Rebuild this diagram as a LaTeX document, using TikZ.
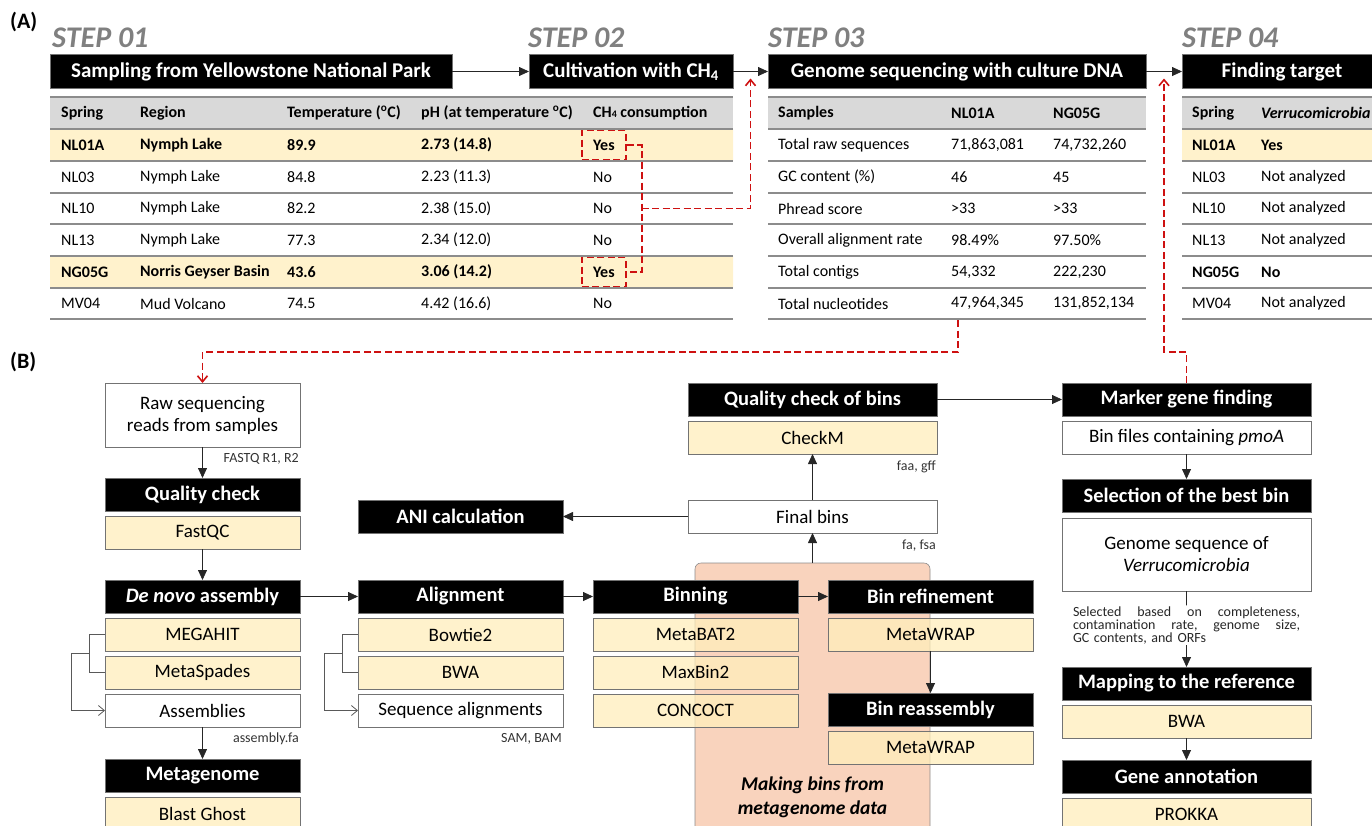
\documentclass[tikz,border=0pt]{standalone}
\usepackage{fontspec}
\setmainfont{Carlito}
\usetikzlibrary{arrows.meta,calc,positioning}

\definecolor{hdgray}{RGB}{217,217,217}
\definecolor{hlrow}{RGB}{255,242,204}
\definecolor{toolfill}{RGB}{255,238,187}
\definecolor{binbg}{RGB}{249,211,189}
\definecolor{stepgray}{RGB}{128,128,128}
\definecolor{redline}{RGB}{206,17,17}
\definecolor{rulegray}{RGB}{140,140,140}

\newcommand{\tabfont}{\fontsize{16}{18}\selectfont}
\newcommand{\boxfont}{\fontsize{19}{22}\selectfont}
\newcommand{\lblfont}{\fontsize{14}{16}\selectfont}

\tikzset{
  box/.style={draw=black!55, line width=0.8pt, minimum height=33pt, inner sep=0pt, outer sep=0pt, align=center, font=\boxfont},
  headbox/.style={box, fill=black, text=white, font=\fontsize{20.5}{22}\selectfont\bfseries},
  toolbox/.style={box, fill=toolfill, fill opacity=0.75, text opacity=1},
  filebox/.style={box, fill=white},
  narrow/.style={minimum width=195pt},
  mid/.style={minimum width=205pt},
  wide/.style={minimum width=249pt},
  arr/.style={line width=0.8pt, black!85, -{Triangle[length=10pt,width=9pt]}},
  brk/.style={line width=0.8pt, black!65},
  opentip/.style={-{Straight Barb[length=6pt,width=10pt]}},
  reddash/.style={redline, line width=1.6pt, dash pattern=on 7pt off 3.5pt},
  redtip/.style={-{Straight Barb[length=6pt,width=10pt]}},
  yesbox/.style={draw=redline, line width=1.6pt, dash pattern=on 7pt off 3.5pt, minimum width=44pt, minimum height=29pt},
  rule/.style={rulegray, line width=1.8pt},
  cell/.style={font=\tabfont, anchor=west, inner sep=0pt},
  lbl/.style={font=\lblfont, text=black!80, inner sep=1pt, anchor=east},
  steplbl/.style={font=\fontsize{30}{32}\selectfont\bfseries\itshape, text=stepgray, anchor=west, inner sep=0pt},
  panel/.style={font=\fontsize{22}{24}\selectfont\bfseries, anchor=west, inner sep=0pt},
}

\begin{document}
\begin{tikzpicture}[x=1pt, y=-1pt]
\clip (0,0) rectangle (1372,825);

% (A) steps and tables
\node[panel] (plA) at (10,22) {(A)};
\node[steplbl] (st1) at (52,38) {STEP 01};
\node[steplbl] (st2) at (528,38) {STEP 02};
\node[steplbl] (st3) at (768,38) {STEP 03};
\node[steplbl] (st4) at (1182,38) {STEP 04};

\node[headbox, minimum width=402pt, minimum height=34pt, font=\fontsize{21}{22}\selectfont\bfseries] (samp) at (251,71.5) {Sampling from Yellowstone National Park};
\node[headbox, minimum width=204pt, minimum height=34pt, font=\fontsize{21}{22}\selectfont\bfseries] (cult) at (631,71.5) {Cultivation with CH\textsubscript{4}};
\node[headbox, minimum width=378pt, minimum height=34pt, font=\fontsize{21}{22}\selectfont\bfseries] (gseq) at (957,71.5) {Genome sequencing with culture DNA};
\node[headbox, minimum width=200pt, minimum height=34pt, font=\fontsize{21}{22}\selectfont\bfseries] (find) at (1282,71.5) {Finding target};

\draw[arr] (samp) -- (cult);
\draw[arr] (cult) -- (gseq);
\draw[arr] (gseq) -- (find);

% table of springs
\fill[hdgray] (50,97) rectangle (733,129);
\fill[hlrow] (50,129) rectangle (733,161) (50,256) rectangle (733,288);
\foreach \y in {97,129,161,193,224,256,288,319} \draw[rule] (50,\y) -- (733,\y);
\foreach \x/\t [count=\i] in {61/Spring, 140/Region, 287/{Temperature (\textsuperscript{o}C)},
    421/{pH (at temperature \textsuperscript{o}C)}, 593/{CH{\fontsize{10}{10}\selectfont 4} consumption}}
  \node[cell, font=\tabfont\bfseries] (ha\i) at (\x,113) {\t};
\foreach \y/\f/\cA/\cB/\cC/\cD/\cE [count=\i] in {
    145/\bfseries/NL01A/Nymph Lake/89.9/2.73 (14.8)/Yes,
    177/\mdseries/NL03/Nymph Lake/84.8/2.23 (11.3)/No,
    208.5/\mdseries/NL10/Nymph Lake/82.2/2.38 (15.0)/No,
    240/\mdseries/NL13/Nymph Lake/77.3/2.34 (12.0)/No,
    272/\bfseries/NG05G/Norris Geyser Basin/43.6/3.06 (14.2)/Yes,
    303.5/\mdseries/MV04/Mud Volcano/74.5/4.42 (16.6)/No}{
  \node[cell] (sa\i) at (61,\y) {\f\cA};
  \node[cell] (ra\i) at (140,\y) {\f\cB};
  \node[cell] (ta\i) at (287,\y) {\f\cC};
  \node[cell] (pa\i) at (421,\y) {\f\cD};
  \node[cell] (ca\i) at (593,\y) {\f\cE};
}
\node[yesbox] (yes1) at (ca1) {};
\node[yesbox] (yes2) at (ca5) {};

% table of sequencing
\fill[hdgray] (768,97) rectangle (1146,129);
\foreach \y in {97,129,161,193,224,256,288,319} \draw[rule] (768,\y) -- (1146,\y);
\node[cell, font=\tabfont\bfseries] (hb1) at (778,113) {Samples};
\node[cell, font=\tabfont\bfseries] (hb2) at (951,113) {NL01A};
\node[cell, font=\tabfont\bfseries] (hb3) at (1053,113) {NG05G};
\foreach \y/\cA/\cB/\cC [count=\i] in {
    145/Total raw sequences/{71,863,081}/{74,732,260},
    177/GC content (\%)/46/45,
    208.5/Phread score/>33/>33,
    240/Overall alignment rate/98.49\%/97.50\%,
    272/Total contigs/{54,332}/{222,230},
    303.5/Total nucleotides/{47,964,345}/{131,852,134}}{
  \node[cell] (sb\i) at (778,\y) {\cA};
  \node[cell] (nb\i) at (951,\y) {\cB};
  \node[cell] (gb\i) at (1053,\y) {\cC};
}

% table of targets
\fill[hdgray] (1182,97) rectangle (1372,129);
\fill[hlrow] (1182,129) rectangle (1372,161);
\foreach \y in {97,129,161,193,224,256,288,319} \draw[rule] (1182,\y) -- (1372,\y);
\node[cell, font=\tabfont\bfseries] (hc1) at (1192,113) {Spring};
\node[cell, font=\tabfont\bfseries\itshape] (hc2) at (1261,113) {Verrucomicrobia};
\foreach \y/\f/\cA/\cB [count=\i] in {
    145/\bfseries/NL01A/Yes,
    177/\mdseries/NL03/Not analyzed,
    208.5/\mdseries/NL10/Not analyzed,
    240/\mdseries/NL13/Not analyzed,
    272/\bfseries/NG05G/No,
    303.5/\mdseries/MV04/Not analyzed}{
  \node[cell] (sc\i) at (1192,\y) {\f\cA};
  \node[cell] (vc\i) at (1261,\y) {\f\cB};
}

% (B) workflow
\node[panel] (plB) at (10,362) {(B)};

\filldraw[fill=binbg, draw=black!45, line width=0.6pt, rounded corners=6pt]
  (695,850) -- (695,563) -- (930,563) -- (930,850);
\coordinate (regtop) at (812.5,563);
\node[font=\fontsize{19.5}{24}\selectfont\bfseries\itshape, align=center] (mkbins) at (812.5,797) {Making bins from\\metagenome data};

\node[filebox, narrow, minimum height=64pt] (raw) at (202.5,415) {Raw sequencing\\reads from samples};
\node[headbox, narrow, below=31pt of raw] (qc) {Quality check};
\node[toolbox, narrow, below=5pt of qc] (fastqc) {FastQC};
\node[headbox, narrow, below=31pt of fastqc] (denovo) {\textit{De novo} assembly};
\node[toolbox, narrow, below=5pt of denovo] (megahit) {MEGAHIT};
\node[toolbox, narrow, below=5pt of megahit] (mspades) {MetaSpades};
\node[filebox, narrow, below=5pt of mspades] (assem) {Assemblies};
\node[headbox, narrow, below=32pt of assem] (metag) {Metagenome};
\node[toolbox, narrow, below=5pt of metag] (blast) {Blast Ghost};

\node[headbox, mid, right=58pt of denovo] (align) {Alignment};
\node[toolbox, mid, below=5pt of align] (bowtie) {Bowtie2};
\node[toolbox, mid, below=5pt of bowtie] (bwa) {BWA};
\node[filebox, mid, below=5pt of bwa] (seqal) {Sequence alignments};
\node[headbox, mid] (ani) at (align |- 0,516.5) {ANI calculation};

\node[headbox, mid, right=30pt of align] (binning) {Binning};
\node[toolbox, mid, below=5pt of binning] (metabat) {MetaBAT2};
\node[toolbox, mid, below=5pt of metabat] (maxbin) {MaxBin2};
\node[toolbox, mid, below=5pt of maxbin] (concoct) {CONCOCT};

\node[headbox, mid, right=30pt of binning] (binref) {Bin refinement};
\node[toolbox, mid, below=5pt of binref] (mwrap1) {MetaWRAP};
\node[headbox, mid, below=42pt of mwrap1] (binreas) {Bin reassembly};
\node[toolbox, mid, below=5pt of binreas] (mwrap2) {MetaWRAP};

\node[filebox, wide] (final) at (812.5,516.5) {Final bins};
\node[headbox, wide] (qcbins) at (812.5,399.5) {Quality check of bins};
\node[toolbox, wide, below=5pt of qcbins] (checkm) {CheckM};

\node[headbox, wide] (marker) at (1186.5,399.5) {Marker gene finding};
\node[filebox, wide, below=5pt of marker] (binfiles) {Bin files containing \textit{pmoA}};
\node[headbox, wide, below=25pt of binfiles] (select) {Selection of the best bin};
\node[filebox, wide, minimum height=73pt, below=6pt of select] (genseq) {Genome sequence of\\\textit{Verrucomicrobia}};
\node[headbox, wide, below=76pt of genseq] (mapref) {Mapping to the reference};
\node[toolbox, wide, below=5pt of mapref] (bwa2) {BWA};
\node[headbox, wide, below=22pt of bwa2] (geneann) {Gene annotation};
\node[toolbox, wide, below=5pt of geneann] (prokka) {PROKKA};

\node[font=\fontsize{14}{13}\selectfont, text=black!85, text width=227pt, align=left, inner sep=1pt]
  (selnote) at ($(genseq.south)!.45!(mapref.north)$)
  {\makebox[227pt][l]{Selected\hfill based\hfill on\hfill completeness,}\\
   \makebox[227pt][l]{contamination\hfill rate,\hfill genome\hfill size,}\\
   GC contents, and ORFs};

% connectors
\draw[arr] (raw) -- (qc);
\draw[arr] (fastqc) -- (denovo);
\draw[arr] (assem) -- (metag);
\draw[arr] (denovo) -- (align);
\draw[arr] (align) -- (binning);
\draw[arr] (binning) -- (binref);
\draw[arr] (mwrap1) -- (binreas);
\draw[arr] (regtop) -- (final);
\draw[arr] (final) -- (checkm);
\draw[arr] (final) -- (ani);
\draw[arr] (qcbins) -- (marker);
\draw[arr] (binfiles) -- (select);
\draw[line width=0.8pt, black!85] (genseq) -- (selnote.north);
\draw[arr] (selnote.south) -- (mapref);
\draw[arr] (bwa2) -- (geneann);

\draw[brk] (megahit.west) -- ++(-16,0) coordinate (b1) |- (mspades.west);
\draw[brk, opentip] ($(b1)!.5!(b1 |- mspades)$) -- ++(-18,0) |- (assem.west);
\draw[brk] (bowtie.west) -- ++(-16,0) coordinate (b2) |- (bwa.west);
\draw[brk, opentip] ($(b2)!.5!(b2 |- bwa)$) -- ++(-18,0) |- (seqal.west);

\node[lbl] (fq) at ($(raw.south east)+(0,12)$) {FASTQ R1, R2};
\node[lbl] (afa) at ($(assem.south east)+(0,12)$) {assembly.fa};
\node[lbl] (sbam) at ($(seqal.south east)+(0,12)$) {SAM, BAM};
\node[lbl] (fgff) at ($(checkm.south east)+(0,13)$) {faa, gff};
\node[lbl] (ffsa) at ($(final.south east)+(0,13)$) {fa, fsa};

% red links
\coordinate (m23) at ($(cult.east)!.5!(gseq.west)$);
\coordinate (m34) at ($(gseq.east)!.5!(find.west)$);
\coordinate (t2b) at (958,320);
\coordinate (rl) at (0,352);
\draw[reddash] (yes1.east) -- ++(15,0) coordinate (rj) |- (yes2.east);
\draw[reddash, redtip] (rj |- ra3) -| ([yshift=-7pt]m23);
\draw[reddash, redtip] (t2b) |- (raw.north |- rl) -- (raw.north);
\draw[reddash, redtip] (marker.north) -- (marker.north |- rl) -| ([yshift=-7pt]m34);

\end{tikzpicture}
\end{document}
